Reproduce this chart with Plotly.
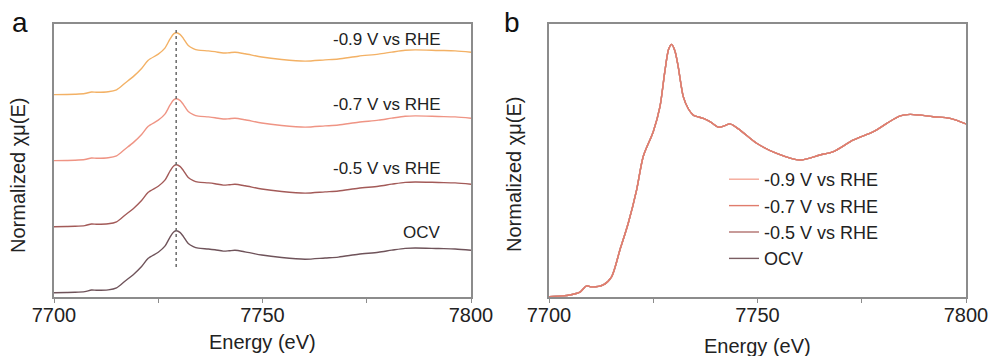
import plotly.graph_objects as go
from plotly.subplots import make_subplots

# ---- data ----
energy = [7700, 7703, 7705, 7707.4, 7709, 7710.2, 7713, 7715, 7717, 7719, 7721, 7722.6,
          7725, 7726.6, 7727.8, 7728.7, 7729.4, 7730.2, 7731, 7732.2, 7733.4, 7734.6,
          7737, 7738.6, 7740.6, 7742, 7743.4, 7745.8, 7749.8, 7754.6, 7760.2, 7765,
          7768.2, 7773, 7777.8, 7781, 7784.2, 7786.6, 7792.2, 7796.2, 7800]
mu_ocv = [0.0, 0.004, 0.009, 0.025, 0.06, 0.054, 0.065, 0.11, 0.258, 0.406, 0.59, 0.776,
          0.913, 1.05, 1.25, 1.37, 1.396, 1.36, 1.27, 1.107, 1.04, 1.005,
          0.987, 0.969, 0.938, 0.945, 0.956, 0.922, 0.849, 0.793, 0.756, 0.784,
          0.803, 0.867, 0.913, 0.959, 1.0, 1.009, 0.996, 0.987, 0.956]
mu_m05 = [0.0, 0.004, 0.009, 0.025, 0.06, 0.054, 0.065, 0.11, 0.258, 0.406, 0.59, 0.776,
          0.913, 1.05, 1.25, 1.37, 1.396, 1.36, 1.27, 1.107, 1.04, 1.005,
          0.987, 0.969, 0.938, 0.945, 0.956, 0.922, 0.849, 0.793, 0.756, 0.784,
          0.803, 0.867, 0.913, 0.959, 1.0, 1.009, 0.996, 0.987, 0.956]
mu_m07 = [0.0, 0.004, 0.009, 0.025, 0.06, 0.054, 0.065, 0.11, 0.258, 0.406, 0.59, 0.776,
          0.913, 1.05, 1.25, 1.37, 1.396, 1.36, 1.27, 1.107, 1.04, 1.005,
          0.987, 0.969, 0.938, 0.945, 0.956, 0.922, 0.849, 0.793, 0.756, 0.784,
          0.803, 0.867, 0.913, 0.959, 1.0, 1.009, 0.996, 0.987, 0.956]
mu_m09 = [0.0, 0.004, 0.009, 0.025, 0.06, 0.054, 0.065, 0.11, 0.258, 0.406, 0.59, 0.776,
          0.913, 1.05, 1.25, 1.37, 1.396, 1.36, 1.27, 1.107, 1.04, 1.005,
          0.987, 0.969, 0.938, 0.945, 0.956, 0.922, 0.849, 0.793, 0.756, 0.784,
          0.803, 0.867, 0.913, 0.959, 1.0, 1.009, 0.996, 0.987, 0.956]
series_names = ["OCV", "-0.5 V vs RHE", "-0.7 V vs RHE", "-0.9 V vs RHE"]
series_values = [mu_ocv, mu_m05, mu_m07, mu_m09]
tick_values = [7700, 7725, 7750, 7775, 7800]
tick_labels = ["7700", "", "7750", "", "7800"]
peak_energy = 7729.3

# ---- styles ----
colors_a = ["#6f535a", "#a35a58", "#ef9484", "#f3b165"]
colors_b = ["#7a5d62", "#b0706e", "#e07c6c", "#f4a898"]
stack_offset = 1.489
FONT = "Arial, Liberation Sans, sans-serif"
W, H = 990, 356

fig = make_subplots(rows=1, cols=2)

# panel a: stacked
for i, (name, vals) in enumerate(zip(series_names, series_values)):
    fig.add_trace(go.Scatter(x=energy, y=[v + i * stack_offset for v in vals], mode="lines",
                             line=dict(color=colors_a[i], width=1.4, shape="spline", smoothing=0.8),
                             showlegend=False, name=name), row=1, col=1)

# panel b: overlaid (draw order so the salmon -0.7 V trace is on top)
draw_order = [0, 1, 3, 2]
legend_rank = {3: 1, 2: 2, 1: 3, 0: 4}
for i in draw_order:
    fig.add_trace(go.Scatter(x=energy, y=series_values[i], mode="lines", name=series_names[i],
                             line=dict(color=colors_b[i], width=1.4, shape="spline", smoothing=0.8),
                             legendrank=legend_rank[i]), row=1, col=2)

def px_x(p):
    return p / W

def px_y(p):
    return 1 - p / H

y_dom = [px_y(297), px_y(24)]
axis_common = dict(showline=True, linecolor="#8c8c8c", linewidth=1.5, mirror=True,
                   showgrid=False, zeroline=False)
fig.update_xaxes(**axis_common, range=[7700, 7800], tickvals=tick_values, ticktext=tick_labels,
                 ticks="outside", ticklen=4, tickcolor="#8c8c8c", tickwidth=1,
                 ticklabelstandoff=-5,
                 tickfont=dict(family=FONT, size=20, color="#222222"))
fig.update_yaxes(**axis_common, showticklabels=False, ticks="")
fig.update_layout(
    xaxis=dict(domain=[px_x(54), px_x(471)]),
    xaxis2=dict(domain=[px_x(549), px_x(966)]),
    yaxis=dict(domain=y_dom, range=[-0.097, 6.06]),
    yaxis2=dict(domain=y_dom, range=[-0.002, 1.509]),
)

# dotted reference line (panel a)
fig.add_shape(type="line", xref="x", yref="y", x0=peak_energy, x1=peak_energy, y0=0.58, y1=5.93,
              line=dict(color="#6a6a6a", width=1.5, dash="dot"))

ann = []
labels_a = ["OCV", "-0.5 V vs RHE", "-0.7 V vs RHE", "-0.9 V vs RHE"]
label_y = [232, 168, 104, 39]
for t, yy in zip(labels_a, label_y):
    ann.append(dict(text=t, x=px_x(443), y=px_y(yy), xref="paper", yref="paper",
                    xanchor="right", yanchor="middle", showarrow=False,
                    font=dict(family=FONT, size=17, color="#222222")))
# panel letters
ann.append(dict(text="a", x=px_x(20), y=px_y(22), xref="paper", yref="paper", xanchor="center",
                yanchor="middle", showarrow=False, font=dict(family=FONT, size=28, color="#111111")))
ann.append(dict(text="b", x=px_x(512), y=px_y(22), xref="paper", yref="paper", xanchor="center",
                yanchor="middle", showarrow=False, font=dict(family=FONT, size=28, color="#111111")))
# axis titles
for cx, cy in [(262, 342), (757, 346)]:
    ann.append(dict(text="Energy (eV)", x=px_x(cx), y=px_y(cy), xref="paper", yref="paper",
                    xanchor="center", yanchor="middle", showarrow=False,
                    font=dict(family=FONT, size=20, color="#222222")))
for cx, cy in [(18, 176), (514, 175)]:
    ann.append(dict(text="Normalized χμ(E)", x=px_x(cx), y=px_y(cy), xref="paper", yref="paper",
                    xanchor="center", yanchor="middle", showarrow=False, textangle=-90,
                    font=dict(family=FONT, size=20, color="#222222")))

fig.update_layout(
    width=W, height=H, margin=dict(l=0, r=0, t=0, b=0, autoexpand=False),
    paper_bgcolor="white", plot_bgcolor="white",
    annotations=ann,
    legend=dict(x=px_x(724), y=px_y(161), xanchor="left", yanchor="top",
                bgcolor="rgba(0,0,0,0)", font=dict(family=FONT, size=18, color="#222222"),
                tracegroupgap=0),
    font=dict(family=FONT),
)

fig.write_html("out.html")
